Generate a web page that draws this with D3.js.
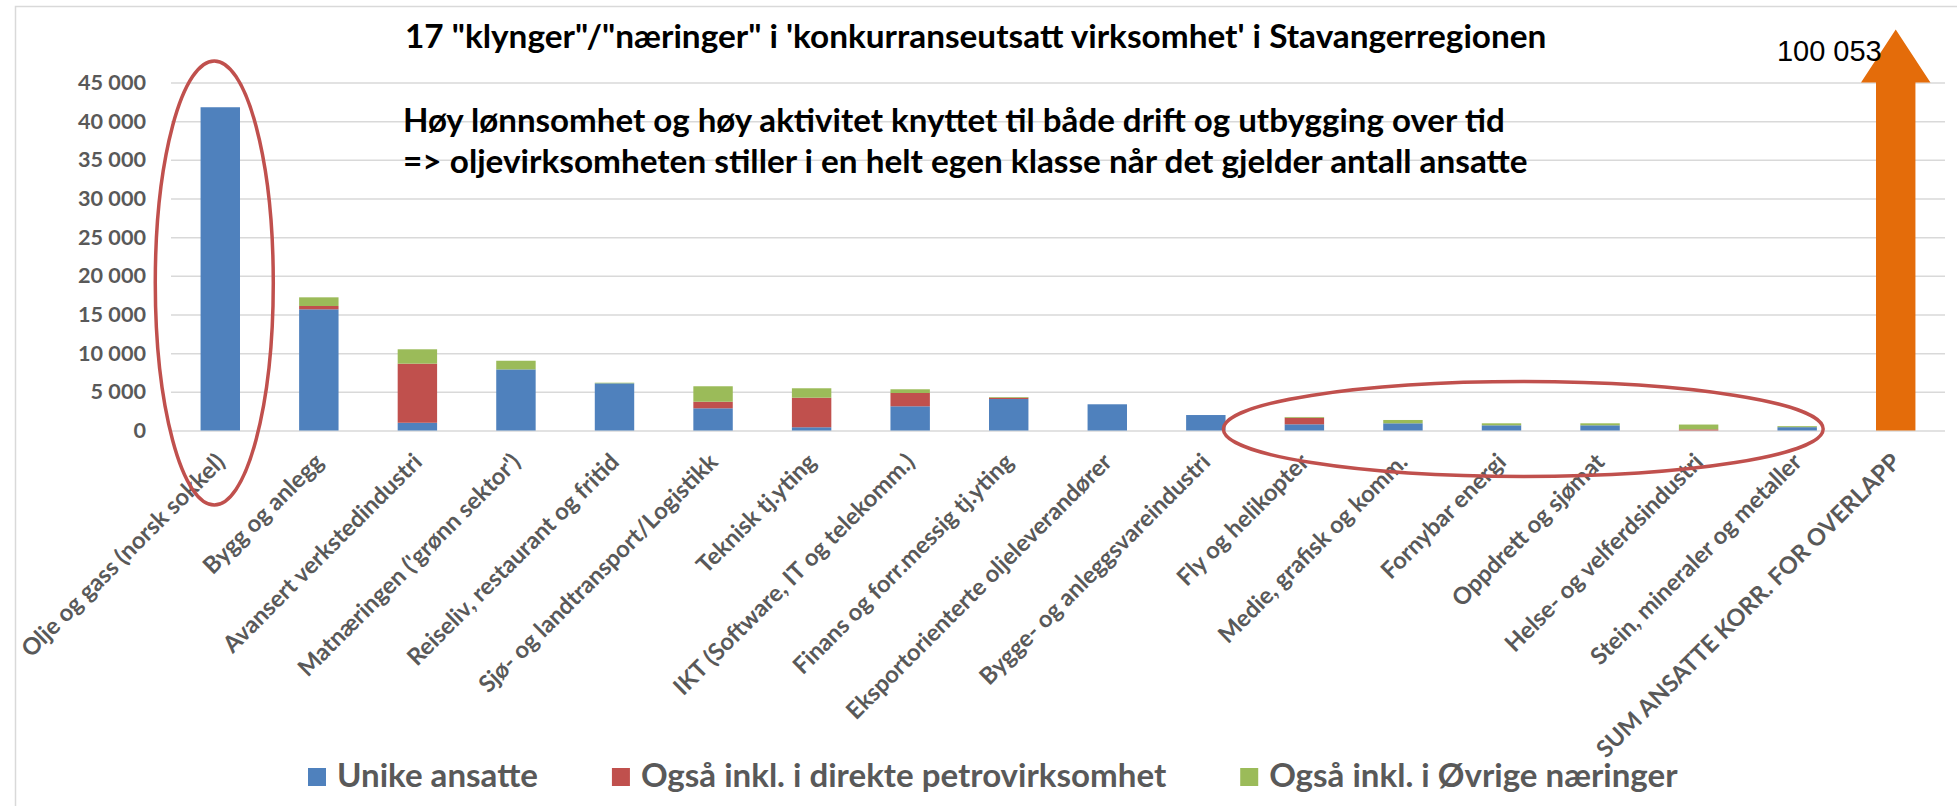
<!DOCTYPE html>
<html>
<head>
<meta charset="utf-8">
<script src="https://cdn.jsdelivr.net/npm/d3@7"></script>
<style>
  body { margin: 0; background: #fff; }
  svg text { font-family: Lato, "Open Sans", sans-serif; font-weight: 700; }
</style>
</head>
<body>
<svg id="chart"></svg>
<script>
// ---- data ----
const categories = [
  "Olje og gass (norsk sokkel)",
  "Bygg og anlegg",
  "Avansert verkstedindustri",
  "Matnæringen ('grønn sektor')",
  "Reiseliv, restaurant og fritid",
  "Sjø- og landtransport/Logistikk",
  "Teknisk tj.yting",
  "IKT (Software, IT og telekomm.)",
  "Finans og forr.messig tj.yting",
  "Eksportorienterte oljeleverandører",
  "Bygge- og anleggsvareindustri",
  "Fly og helikopter",
  "Medie, grafisk og komm.",
  "Fornybar energi",
  "Oppdrett og sjømat",
  "Helse- og velferdsindustri",
  "Stein, mineraler og metaller",
  "SUM ANSATTE KORR. FOR OVERLAPP"
];
const unike = [41800, 15670, 1000, 7900, 6100, 2870, 420, 3130, 4070, 3390, 2000, 800, 930, 670, 670, 0, 430];
const petro = [0, 430, 7640, 0, 0, 850, 3820, 1720, 170, 0, 0, 850, 0, 0, 0, 150, 0];
const ovrige = [0, 1120, 1860, 1120, 80, 2000, 1220, 480, 90, 0, 0, 100, 430, 260, 260, 620, 130];
const sumTotal = 100053;
const yTicks = [0, 5000, 10000, 15000, 20000, 25000, 30000, 35000, 40000, 45000];
const seriesNames = ["Unike ansatte", "Også inkl. i direkte petrovirksomhet", "Også inkl. i Øvrige næringer"];
const colours = ["#4f81bd", "#c0504d", "#9bbb59"];
const titleText = "17 \"klynger\"/\"næringer\" i 'konkurranseutsatt virksomhet' i Stavangerregionen";
const noteLines = [
  "Høy lønnsomhet og høy aktivitet knyttet til både drift og utbygging over tid",
  "=> oljevirksomheten stiller i en helt egen klasse når det gjelder antall ansatte"
];

const width = 1957;
const height = 806;
const plot = { left: 171, right: 1945, top: 82.5, bottom: 430.5 };

const nb = d3.formatLocale({ decimal: ",", thousands: " ", grouping: [3], currency: ["", ""] });
const fmt = nb.format(",");

// scale a text's font-size so it spans the given width
const fit = (sel, target) => {
  const w = sel.node().getComputedTextLength();
  const fs = parseFloat(sel.style("font-size"));
  const size = (fs * target) / w;
  sel.style("font-size", size + "px");
  return size;
};

const svg = d3.select("#chart").attr("width", width).attr("height", height);

svg.append("rect").attr("width", width).attr("height", height).attr("fill", "#fff");

// chart-area frame (top and left edges visible)
svg.append("path")
  .attr("d", `M15.5,${height} V6.5 H${width}`)
  .attr("fill", "none")
  .attr("stroke", "#d9d9d9")
  .attr("stroke-width", 1.5);

const x = d3.scaleBand()
  .domain(categories)
  .range([plot.left, plot.right])
  .paddingInner(0.6)
  .paddingOuter(0.3);

const y = d3.scaleLinear()
  .domain([0, 45000])
  .range([plot.bottom, plot.top]);

const xc = (i) => x(categories[i]) + x.bandwidth() / 2;

// gridlines
svg.append("g")
  .attr("class", "grid")
  .attr("transform", `translate(${plot.left},0)`)
  .call(d3.axisLeft(y).tickValues(yTicks).tickSize(-(plot.right - plot.left)).tickFormat(""))
  .call((g) => g.select(".domain").remove())
  .call((g) => g.selectAll(".tick line").attr("stroke", "#d9d9d9").attr("stroke-width", 1.5));

// y labels
const yAxis = svg.append("g")
  .attr("transform", `translate(${plot.left},0)`)
  .call(d3.axisLeft(y).tickValues(yTicks).tickSize(0).tickPadding(25).tickFormat(fmt))
  .call((g) => g.select(".domain").remove());
yAxis.selectAll("text")
  .attr("fill", "#595959")
  .style("font-family", "Lato, sans-serif")
  .style("font-weight", 700)
  .style("font-size", "20px");
const yTop = yAxis.selectAll(".tick text").filter((d) => d === 45000);
const yFs = fit(yTop, 68);
yAxis.selectAll("text").style("font-size", yFs + "px");

// stacked bars
const rows = unike.map((u, i) => ({ name: categories[i], u, p: petro[i], o: ovrige[i] }));
const stack = d3.stack().keys(["u", "p", "o"])(rows);

svg.append("g")
  .selectAll("g")
  .data(stack)
  .join("g")
  .attr("fill", (d, i) => colours[i])
  .selectAll("rect")
  .data((d) => d)
  .join("rect")
  .attr("x", (d) => x(d.data.name))
  .attr("width", x.bandwidth())
  .attr("y", (d) => y(d[1]))
  .attr("height", (d) => Math.max(0, y(d[0]) - y(d[1])));

// SUM arrow (value is off the scale)
const sumName = categories[categories.length - 1];
const ax0 = x(sumName);
const ax1 = ax0 + x.bandwidth();
const axm = (ax0 + ax1) / 2;
const headBase = y(y.domain()[1]);
const headTip = headBase - 53;
const over = 15;
svg.append("path")
  .attr("d", `M${ax0},${y(0)} V${headBase} H${ax0 - over} L${axm},${headTip} L${ax1 + over},${headBase} H${ax1} V${y(0)} Z`)
  .attr("fill", "#e46c0a");

svg.append("text")
  .attr("x", axm - 14)
  .attr("y", headBase - 21.5)
  .attr("text-anchor", "end")
  .style("font-family", "'Liberation Sans', Arial, sans-serif")
  .style("font-weight", 400)
  .style("font-size", "29px")
  .attr("fill", "#000")
  .text(fmt(sumTotal));

// category labels
const xl = svg.append("g")
  .selectAll("text")
  .data(categories)
  .join("text")
  .attr("transform", (d, i) => `translate(${xc(i) + 6},${y(0) + 33}) rotate(-45)`)
  .attr("text-anchor", "end")
  .attr("fill", "#595959")
  .style("font-size", "20px")
  .text((d) => d);
const xFs = fit(xl.filter((d, i) => i === 0), 276);
xl.style("font-size", xFs + "px");

// title and note
const t = svg.append("text")
  .attr("x", 405)
  .attr("y", 48)
  .attr("fill", "#000")
  .style("font-size", "28px")
  .text(titleText);
fit(t, 1142);

const noteY = [132, 173];
const noteW = [1102, 1125];
noteLines.forEach((line, i) => {
  const n = svg.append("text")
    .attr("x", 403)
    .attr("y", noteY[i])
    .attr("fill", "#000")
    .style("font-size", "28px")
    .text(line);
  fit(n, noteW[i]);
});

// highlight ellipses
const ell = (left, right, top, bottom) =>
  svg.append("ellipse")
    .attr("cx", (left + right) / 2)
    .attr("cy", (top + bottom) / 2)
    .attr("rx", (right - left) / 2)
    .attr("ry", (bottom - top) / 2)
    .attr("fill", "none")
    .attr("stroke", "#c0504d")
    .attr("stroke-width", 3.5);

ell(xc(0) - 65, xc(0) + 53, y(45000) - 21.5, y(0) + 74.5);
ell(xc(11) - 81, xc(16) + 26, y(0) - 49, y(0) + 46);

// legend
const legend = svg.append("g");
let lx = 308;
const ly = 777;
seriesNames.forEach((name, i) => {
  legend.append("rect")
    .attr("x", lx)
    .attr("y", ly - 9)
    .attr("width", 18)
    .attr("height", 18)
    .attr("fill", colours[i]);
  const txt = legend.append("text")
    .attr("x", lx + 29)
    .attr("y", ly + 10)
    .attr("fill", "#595959")
    .style("font-size", "30px")
    .text(name);
  if (i === 0) fit(txt, 201);
  txt.style("font-size", legend.select("text").style("font-size"));
  lx += 29 + txt.node().getComputedTextLength() + 74;
});
</script>
</body>
</html>
